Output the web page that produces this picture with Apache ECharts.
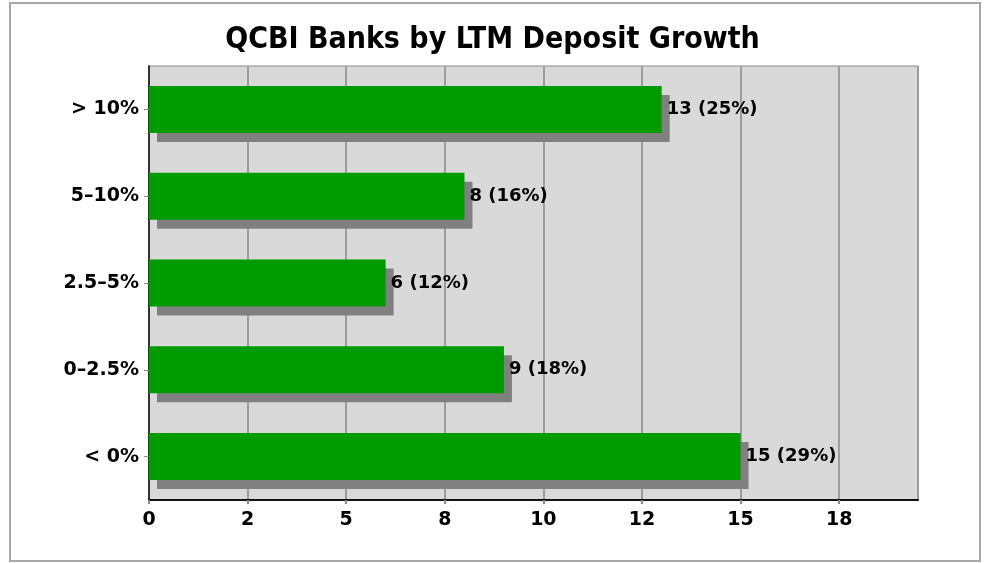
<!DOCTYPE html>
<html><head><meta charset="utf-8">
<script src="https://cdn.jsdelivr.net/npm/echarts@6/dist/echarts.min.js"></script>
<style>html,body{margin:0;padding:0;background:#fff}#c{width:985px;height:563px}</style>
</head><body><div id="c"></div>
<script>
const categories = ['< 0%', '0\u20132.5%', '2.5\u20135%', '5\u201310%', '> 10%'];
const counts = [15, 9, 6, 8, 13];
const percents = [29, 18, 12, 16, 25];
const tickLabels = {0:'0', 2.5:'2', 5:'5', 7.5:'8', 10:'10', 12.5:'12', 15:'15', 17.5:'18'};

const chart = echarts.init(document.getElementById('c'), null, {renderer:'canvas'});
chart.setOption({
  animation: false,
  title: {
    text: 'QCBI Banks by LTM Deposit Growth',
    left: 'center', top: 20,
    textStyle: {fontFamily: 'DejaVu Sans Condensed', fontWeight: 'bold', fontSize: 30, color: '#000'}
  },
  graphic: [{type:'rect', shape:{x:10, y:3, width:970, height:558}, style:{fill:'none', stroke:'#a8a8a8', lineWidth:2}, z:-10}],
  grid: {left: 149, right: 67, top: 66, bottom: 63, show: true, backgroundColor: '#d9d9d9', borderColor: '#8c8c8c', borderWidth: 1},
  xAxis: {
    type: 'value', min: 0, max: 19.5, interval: 2.5,
    axisLine: {show: true, lineStyle: {color: '#111', width: 2}},
    axisTick: {show: true, length: 4, lineStyle: {color: '#888', width: 2}},
    splitLine: {show: true, lineStyle: {color: '#9c9c9c', width: 2}},
    axisLabel: {formatter: v => (tickLabels[v] !== undefined ? tickLabels[v] : ''), color: '#000', fontFamily: 'DejaVu Sans', fontWeight: 'bold', fontSize: 19, margin: 11, showMaxLabel: false}
  },
  yAxis: {
    type: 'category', data: categories,
    axisLine: {show: true, lineStyle: {color: '#333', width: 2}},
    axisTick: {show: true, alignWithLabel: true, length: 5, lineStyle: {color: '#888'}},
    axisLabel: {color: '#000', fontFamily: 'DejaVu Sans', fontWeight: 'bold', fontSize: 19, margin: 10}
  },
  series: [{
    type: 'bar', data: counts, barWidth: 47,
    itemStyle: {color: '#009b00', shadowColor: '#808080', shadowBlur: 0, shadowOffsetX: 8, shadowOffsetY: 9},
    label: {
      show: true, position: 'right', distance: 5,
      formatter: p => counts[p.dataIndex] + ' (' + percents[p.dataIndex] + '%)',
      color: '#000', fontFamily: 'DejaVu Sans', fontWeight: 'bold', fontSize: 18
    }
  }]
});
</script></body></html>
